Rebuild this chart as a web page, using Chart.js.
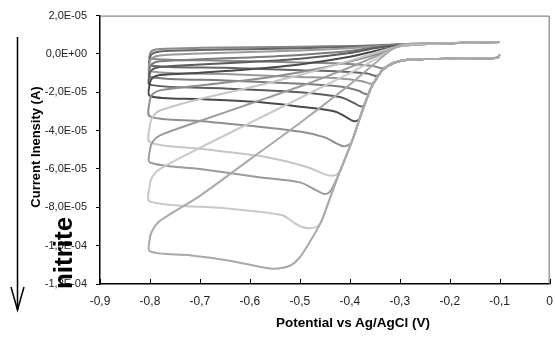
<!DOCTYPE html>
<html><head><meta charset="utf-8">
<script src="https://cdn.jsdelivr.net/npm/chart.js@4.4.1/dist/chart.umd.min.js"></script>
<style>
html,body{margin:0;padding:0;background:#fff;overflow:hidden;width:555px;height:337px;}
#wrap{position:relative;width:563px;height:337px;}
canvas{position:absolute;left:0;top:0;}
.t{position:absolute;font-family:"Liberation Sans",Arial,sans-serif;font-weight:bold;color:#000;white-space:nowrap;line-height:1;}
</style></head><body>
<div id="wrap">
<canvas id="c" width="563" height="337"></canvas>
<div class="t" id="xt" style="left:353px;top:323px;font-size:13.5px;transform:translate(-50%,-50%);">Potential vs Ag/AgCl (V)</div>
<div class="t" id="yt" style="left:35px;top:147px;font-size:13px;transform:translate(-50%,-50%) rotate(-90deg);">Current Inensity (A)</div>
<div class="t" id="nt" style="left:63px;top:253px;font-size:26px;transform:translate(-50%,-50%) rotate(-90deg);">nitrite</div>
<svg style="position:absolute;left:0;top:0" width="40" height="337">
<line x1="17.5" y1="37" x2="17.5" y2="310" stroke="#000" stroke-width="1.5"/>
<polyline points="11,287 17.5,310 24,287" fill="none" stroke="#000" stroke-width="1.5"/>
</svg>
</div>
<script>
// tick values / labels
const xTickValues = [-0.9,-0.8,-0.7,-0.6,-0.5,-0.4,-0.3,-0.2,-0.1,0];
const xTickLabels = ['-0,9','-0,8','-0,7','-0,6','-0,5','-0,4','-0,3','-0,2','-0,1','0'];
const yTickValues = [-12,-10,-8,-6,-4,-2,0,2]; // units of 1E-05 A
const yTickLabels = ['-1,2E-04','-1,0E-04','-8,0E-05','-6,0E-05','-4,0E-05','-2,0E-05','0,0E+00','2,0E-05'];

// shared cathodic front (potential V, current in 1E-05 A)
const frontV = [-0.1,-0.105,-0.15,-0.2,-0.25,-0.284,-0.31,-0.325,-0.337,-0.347,-0.357,-0.367,-0.377,-0.387,-0.397,-0.41,-0.423,-0.44,-0.457,-0.48,-0.502];
const frontI = [-0.05,-0.2,-0.22,-0.25,-0.27,-0.3,-0.45,-0.65,-0.91,-1.3,-1.73,-2.4,-3.11,-3.9,-4.64,-5.5,-6.33,-7.55,-8.73,-9.8,-10.67];
// reverse sweep potentials
const upperV = [-0.8,-0.795,-0.78,-0.7,-0.6,-0.5,-0.4,-0.35,-0.3,-0.2,-0.1];

// curves: lower (forward) branch from peak to -0.8 V, and reverse branch currents
const lowV_A = [-0.52,-0.55,-0.58,-0.65,-0.72,-0.8];
const lowI_A = [-11.05,-11.2,-11.1,-10.75,-10.5,-10.3];
const upI_A  = [-9.6,-9.2,-8.7,-7.4,-5.5,-3.6,-1.6,-0.5,0.45,0.56,0.62];

const lowV_B = [-0.465,-0.48,-0.495,-0.515,-0.536,-0.65,-0.8];
const lowI_B = [-9.0,-9.09,-9.03,-8.75,-8.4,-8.05,-7.7];
const upI_B  = [-6.8,-6.4,-6.0,-4.9,-3.6,-2.3,-1.0,-0.3,0.42,0.56,0.62];

const lowV_C = [-0.44,-0.452,-0.468,-0.5,-0.582,-0.7,-0.8];
const lowI_C = [-7.2,-7.3,-7.1,-6.7,-6.43,-6.0,-5.66];
const upI_C  = [-5.0,-4.6,-4.25,-3.5,-2.6,-1.7,-0.7,-0.15,0.4,0.56,0.62];

const lowV_D = [-0.422,-0.435,-0.45,-0.48,-0.52,-0.582,-0.7,-0.8];
const lowI_D = [-6.2,-6.35,-6.28,-5.95,-5.65,-5.31,-4.95,-4.6];
const upI_D  = [-3.7,-3.3,-2.95,-2.35,-1.75,-1.1,-0.35,0.05,0.4,0.56,0.62];

const lowV_E = [-0.403,-0.413,-0.428,-0.45,-0.5,-0.59,-0.7,-0.8];
const lowI_E = [-4.75,-4.82,-4.65,-4.35,-4.05,-3.77,-3.5,-3.26];
const upI_E  = [-2.4,-2.1,-1.9,-1.65,-1.35,-0.95,-0.4,-0.05,0.4,0.56,0.62];

const lowV_F = [-0.383,-0.393,-0.405,-0.43,-0.5,-0.59,-0.7,-0.8];
const lowI_F = [-3.45,-3.5,-3.33,-3.0,-2.75,-2.5,-2.35,-2.19];
const upI_F  = [-1.5,-1.25,-1.1,-0.98,-0.8,-0.55,-0.15,0.15,0.42,0.56,0.62];

const lowV_G5 = [-0.372,-0.38,-0.392,-0.42,-0.5,-0.65,-0.8];
const lowI_G5 = [-2.7,-2.72,-2.55,-2.25,-2.0,-1.8,-1.6];
const upI_G5  = [-1.0,-0.8,-0.68,-0.55,-0.42,-0.25,0.05,0.3,0.45,0.56,0.62];

const lowV_G4 = [-0.362,-0.37,-0.382,-0.42,-0.5,-0.65,-0.8];
const lowI_G4 = [-2.05,-2.08,-1.92,-1.7,-1.55,-1.38,-1.2];
const upI_G4  = [-0.7,-0.5,-0.38,-0.28,-0.18,-0.05,0.15,0.35,0.47,0.56,0.62];

const lowV_G3 = [-0.352,-0.36,-0.375,-0.42,-0.5,-0.65,-0.8];
const lowI_G3 = [-1.52,-1.55,-1.42,-1.28,-1.2,-1.05,-0.9];
const upI_G3  = [-0.4,-0.2,-0.08,0.02,0.1,0.18,0.3,0.4,0.48,0.56,0.62];

const lowV_G2 = [-0.342,-0.35,-0.365,-0.42,-0.5,-0.65,-0.8];
const lowI_G2 = [-1.12,-1.14,-1.02,-0.92,-0.85,-0.72,-0.6];
const upI_G2  = [-0.2,0.02,0.13,0.2,0.25,0.3,0.38,0.43,0.49,0.56,0.62];

const lowV_G1 = [-0.33,-0.338,-0.355,-0.42,-0.5,-0.65,-0.8];
const lowI_G1 = [-0.72,-0.74,-0.62,-0.5,-0.45,-0.35,-0.25];
const upI_G1  = [0.0,0.18,0.26,0.32,0.35,0.38,0.42,0.45,0.5,0.56,0.62];

const curveColors = ['#a9a9a9','#c9c9c9','#9b9b9b','#c6c6c6','#8f8f8f','#4a4a4a','#5c5c5c','#7c7c7c','#9a9a9a','#666666','#8a8a8a'];

function buildCurve(lowV, lowI, upI){
  const pts = [];
  for (let i = 0; i < frontV.length; i++) if (frontV[i] > lowV[0]) pts.push({x: frontV[i], y: frontI[i]});
  for (let i = 0; i < lowV.length; i++) pts.push({x: lowV[i], y: lowI[i]});
  for (let i = 0; i < upperV.length; i++) pts.push({x: upperV[i], y: upI[i]});
  return pts;
}
const curves = [
  [lowV_A,lowI_A,upI_A],[lowV_B,lowI_B,upI_B],[lowV_C,lowI_C,upI_C],[lowV_D,lowI_D,upI_D],
  [lowV_E,lowI_E,upI_E],[lowV_F,lowI_F,upI_F],[lowV_G5,lowI_G5,upI_G5],[lowV_G4,lowI_G4,upI_G4],
  [lowV_G3,lowI_G3,upI_G3],[lowV_G2,lowI_G2,upI_G2],[lowV_G1,lowI_G1,upI_G1]
];
const datasets = curves.map((c, k) => ({
  data: buildCurve(c[0], c[1], c[2]),
  showLine: true, borderColor: curveColors[k], borderWidth: 2,
  pointRadius: 0, tension: 0.3, fill: false
}));

const framePlugin = {
  id: 'frame',
  afterDraw(chart){
    const {ctx, chartArea: a, scales: {x}} = chart;
    ctx.save();
    ctx.strokeStyle = '#6b6b6b'; ctx.lineWidth = 1;
    ctx.beginPath();
    ctx.moveTo(a.left, a.top + 0.5); ctx.lineTo(a.right - 0.5, a.top + 0.5); ctx.lineTo(a.right - 0.5, a.bottom);
    ctx.stroke();
    ctx.strokeStyle = '#000'; ctx.lineWidth = 1;
    ctx.beginPath();
    x.ticks.forEach(t => { const px = Math.round(x.getPixelForValue(t.value)) + 0.5; ctx.moveTo(px, a.bottom); ctx.lineTo(px, a.bottom - 5); });
    ctx.stroke();
    ctx.restore();
  }
};

new Chart(document.getElementById('c'), {
  type: 'scatter',
  data: { datasets },
  options: {
    responsive: false, animation: false, devicePixelRatio: 1,
    layout: { padding: { left: 0, top: 10, right: 10, bottom: 0 } },
    plugins: { legend: { display: false }, tooltip: { enabled: false } },
    scales: {
      x: {
        type: 'linear', min: -0.9, max: 0,
        afterBuildTicks: s => { s.ticks = xTickValues.map(v => ({value: v})); },
        afterFit: s => { s.height = 53; },
        grid: { display: false, drawTicks: false },
        border: { display: true, color: '#000', width: 1.5 },
        ticks: { padding: 10, color: '#222', font: { family: 'Liberation Sans', size: 12 }, maxRotation: 0, autoSkip: false,
                 callback: (v, i) => xTickLabels[i] }
      },
      y: {
        type: 'linear', min: -12, max: 2,
        afterBuildTicks: s => { s.ticks = yTickValues.map(v => ({value: v})); },
        afterFit: s => { s.width = 100; },
        grid: { display: true, drawOnChartArea: false, drawTicks: true, tickLength: 4, color: '#000' },
        border: { display: true, color: '#000', width: 1.5 },
        ticks: { padding: 9, color: '#222', font: { family: 'Liberation Sans', size: 11 }, autoSkip: false,
                 callback: (v, i) => yTickLabels[i] }
      }
    }
  },
  plugins: [framePlugin]
});
</script>
</body></html>
